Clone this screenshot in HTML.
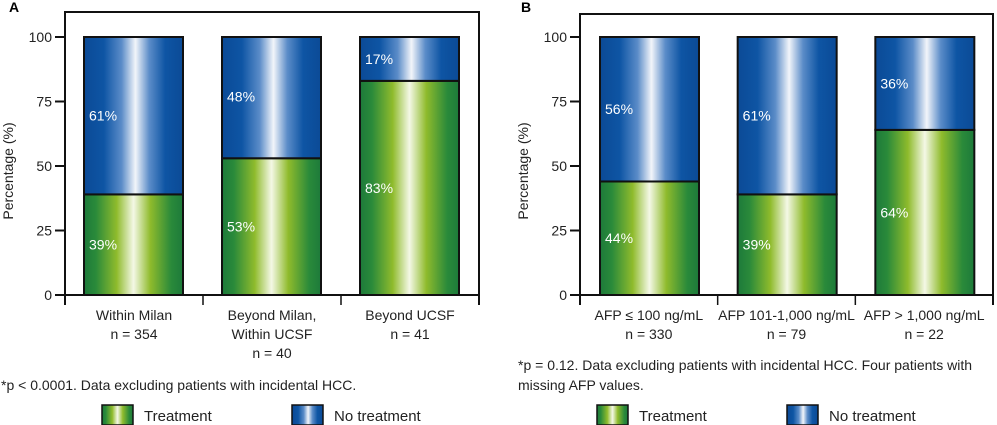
<!DOCTYPE html>
<html><head><meta charset="utf-8"><style>
html,body{margin:0;padding:0;background:#fff;}
svg{display:block;font-family:"Liberation Sans Narrow","Liberation Sans",sans-serif;}
</style></head><body>
<svg id="c" width="997" height="425" viewBox="0 0 997 425">
<defs>
<linearGradient id="gG" x1="0" x2="1" y1="0" y2="0">
<stop offset="0" stop-color="#1d7a3a"/><stop offset="0.12" stop-color="#2a8a3a"/><stop offset="0.33" stop-color="#8fbb2c"/><stop offset="0.5" stop-color="#f4f8e6"/><stop offset="0.67" stop-color="#8fbb2c"/><stop offset="0.88" stop-color="#2a8a3a"/><stop offset="1" stop-color="#1d7a3a"/>
</linearGradient>
<linearGradient id="gB" x1="0" x2="1" y1="0" y2="0">
<stop offset="0" stop-color="#0b4a96"/><stop offset="0.2" stop-color="#0e55a4"/><stop offset="0.38" stop-color="#5b8cc8"/><stop offset="0.52" stop-color="#f2f5fa"/><stop offset="0.66" stop-color="#5b8cc8"/><stop offset="0.82" stop-color="#0e55a4"/><stop offset="1" stop-color="#0b4a96"/>
</linearGradient>
</defs>
</svg>
<script>
const catsA = [["Within Milan","n = 354"],["Beyond Milan,","Within UCSF","n = 40"],["Beyond UCSF","n = 41"]];
const treatA = [39, 53, 83];
const noTreatA = [61, 48, 17];
const catsB = [["AFP \u2264 100 ng/mL","n = 330"],["AFP 101-1,000 ng/mL","n = 79"],["AFP > 1,000 ng/mL","n = 22"]];
const treatB = [44, 39, 64];
const noTreatB = [56, 61, 36];
const yTicks = [0, 25, 50, 75, 100];

const svg = document.getElementById('c');
const NS = 'http://www.w3.org/2000/svg';
function mk(tag, attrs, parent, text){
  const e = document.createElementNS(NS, tag);
  for (const k in attrs) e.setAttribute(k, attrs[k]);
  if (text !== undefined) e.textContent = text;
  (parent||svg).appendChild(e);
  return e;
}
function panel(id, fx0, fx1, fy0, cats, treat, noTreat, barX0, title, titleX){
  const g = mk('g', {});
  
  
  const yB = 295, yT = 37;
  const y = v => yB - (yB - yT) * v / 100;
  const t = mk('text', {x: titleX, y: 12, 'font-size': 14, 'font-weight': 'bold'}, g, title);
  
  
  // frame
  const fr = mk('path', {d: `M${fx0} 305 V${fy0} H${fx1} V305`, fill: 'none', stroke: '#111', 'stroke-width': 2}, g);
  
  
  const ax = mk('line', {x1: fx0, x2: fx1, y1: yB, y2: yB, stroke: '#111', 'stroke-width': 2}, g);
  
  
  const span = (fx1 - fx0) / 3;
  for (let i = 1; i < 3; i++) {
    const s = mk('line', {x1: fx0 + span*i, x2: fx0 + span*i, y1: yB, y2: 305, stroke: '#111', 'stroke-width': 1.5}, g);
    
    
  }
  yTicks.forEach(v => {
    const tk = mk('line', {x1: fx0 - 10, x2: fx0, y1: y(v), y2: y(v), stroke: '#111', 'stroke-width': 2}, g);
    
    
    const tl = mk('text', {x: fx0 - 13, y: y(v) + 5, 'text-anchor': 'end', 'font-size': 14, fill: '#222'}, g, String(v));
    
    
  });
  const yt = mk('text', {transform: `translate(${fx0 - 52},${(yB+yT)/2 + 5}) rotate(-90)`, 'text-anchor': 'middle', 'font-size': 14, fill: '#222'}, g, 'Percentage (%)');
  
  
  const bw = 99;
  cats.forEach((c, i) => {
    const bx = barX0 + span * i;
    const ts = mk('rect', {x: bx, y: y(treat[i]), width: bw, height: y(0) - y(treat[i]), fill: 'url(#gG)', stroke: '#111', 'stroke-width': 2}, g);
    
    
    const ns = mk('rect', {x: bx, y: y(100), width: bw, height: y(treat[i]) - y(100), fill: 'url(#gB)', stroke: '#111', 'stroke-width': 2}, g);
    
    
    const l1 = mk('text', {x: bx + 5, y: y(treat[i] / 2) + 5, 'font-size': 14, fill: '#fff'}, g, treat[i] + '%');
    
    
    const l2 = mk('text', {x: bx + 5, y: y(treat[i] + noTreat[i] / 2) + 5, 'font-size': 14, fill: '#fff'}, g, noTreat[i] + '%');
    
    
    const cx = fx0 + span * (i + 0.5);
    c.forEach((line, j) => {
      const cl = mk('text', {x: cx, y: 320 + 19 * j, 'text-anchor': 'middle', 'font-size': 14, fill: '#222'}, g, line);
      
      
    });
  });
}
panel('a', 65, 479, 12, catsA, treatA, noTreatA, 84, 'A', 9);
panel('b', 580, 993, 14, catsB, treatB, noTreatB, 600, 'B', 521);

function txt(x, yy, s, name){
  const e = mk('text', {x: x, y: yy, 'font-size': 14, fill: '#222'}, svg, s);
  
  
}
txt(1, 390, '*p < 0.0001. Data excluding patients with incidental HCC.', 'footnote-a');
txt(518, 370, '*p = 0.12. Data excluding patients with incidental HCC. Four patients with', 'footnote-b');
txt(518, 390, 'missing AFP values.', 'footnote-b-line2');

function legend(x, name, fill, label){
  const r = mk('rect', {x: x, y: 405, width: 31, height: 20, fill: fill, stroke: '#111', 'stroke-width': 1.5});
  
  
  const t = mk('text', {x: x + 42, y: 421, 'font-size': 15, fill: '#222'}, svg, label);
  
  
}
legend(102, 'legend-a-treatment', 'url(#gG)', 'Treatment');
legend(292, 'legend-a-no-treatment', 'url(#gB)', 'No treatment');
legend(597, 'legend-b-treatment', 'url(#gG)', 'Treatment');
legend(787, 'legend-b-no-treatment', 'url(#gB)', 'No treatment');
</script>
</body></html>
